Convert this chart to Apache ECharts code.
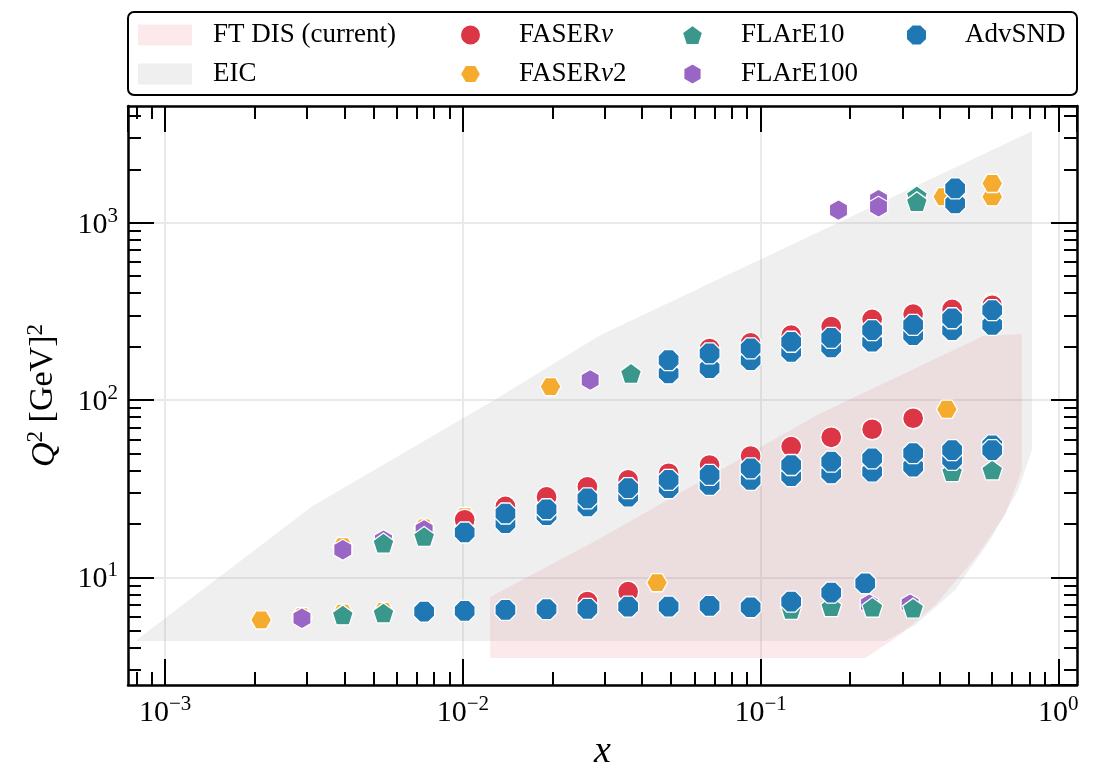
<!DOCTYPE html>
<html><head><meta charset="utf-8">
<script src="https://cdn.jsdelivr.net/npm/echarts@6/dist/echarts.min.js"></script>
<style>html,body{margin:0;padding:0;background:#fff}#c{width:1095px;height:764px}</style>
</head><body><div id="c"></div>
<script>
// ---------------- data ----------------
// FT DIS (current) region (x, Q2) polygon
const ftdisX  = [0.01235, 0.01235, 0.02826, 0.155, 0.5595, 0.7544, 0.7544, 0.6632, 0.526, 0.386, 0.2944, 0.2246];
const ftdisQ2 = [3.51, 7.75, 16.25, 82.3, 229.5, 235.5, 40.3, 22.5, 12.87, 6.99, 4.74, 3.51];
// EIC region polygon
const eicX  = [0.000793, 0.00311, 0.0130, 0.0289, 0.0731, 0.816, 0.816, 0.733, 0.5906, 0.4504, 0.3306, 0.2621];
const eicQ2 = [4.38, 25.1, 102, 232, 485, 3281, 52.3, 31.1, 16.25, 8.49, 5.39, 4.38];

// FASERnu (red circles)
const fasernuX  = [0.0262, 0.0359, 0.01014, 0.0139, 0.0191, 0.0262, 0.0359, 0.0491, 0.0674, 0.0926, 0.1267, 0.1727, 0.237, 0.3255,
                   0.0674, 0.0926, 0.1267, 0.1727, 0.237, 0.3255, 0.440, 0.600];
const fasernuQ2 = [7.30, 8.30, 21.1, 25.1, 28.4, 32.4, 35.4, 38.6, 43.0, 48.3, 54.6, 61.6, 68.4, 78.9,
                   195, 210, 232, 259, 285, 305, 324, 342];
// FASERnu2 (orange hexagons)
const fasernu2X  = [0.00210, 0.00288, 0.00395, 0.00541, 0.0449, 0.00395, 0.00741, 0.01014, 0.0197, 0.4226, 0.600, 0.411, 0.600, 0.600];
const fasernu2Q2 = [5.75, 5.99, 6.28, 6.42, 9.33, 14.9, 19.0, 22.0, 118.9, 88.6, 352, 1400, 1400, 1665];
// FLArE10 (teal pentagons)
const flare10X  = [0.00395, 0.00541, 0.1267, 0.1727, 0.2375, 0.3255, 0.00541, 0.00741, 0.440, 0.600, 0.0367, 0.335, 0.335];
const flare10Q2 = [6.14, 6.30, 6.6, 6.84, 6.78, 6.70, 15.6, 17.0, 39.4, 40.3, 141.4, 1420, 1313];
// FLArE100 (purple hexagons)
const flare100X  = [0.00288, 0.232, 0.318, 0.00395, 0.00541, 0.00741, 0.02677, 0.1827, 0.249, 0.249];
const flare100Q2 = [5.88, 7.05, 7.05, 14.3, 16.2, 18.5, 129.7, 1178, 1350, 1229];
// AdvSND (blue octagons)
const advsndX  = [0.00741, 0.01014, 0.0139, 0.0191, 0.0262, 0.0359, 0.0491, 0.0674, 0.0926, 0.1267, 0.1727, 0.2247,
                  0.01014, 0.0139, 0.0139, 0.0191, 0.0191, 0.0262, 0.0262, 0.0359, 0.0359, 0.0491, 0.0491, 0.0674, 0.0674,
                  0.0926, 0.0926, 0.1267, 0.1267, 0.1727, 0.1727, 0.237, 0.237, 0.3255, 0.3255, 0.440, 0.440, 0.600, 0.600,
                  0.0491, 0.0491, 0.0674, 0.0674, 0.0926, 0.0926, 0.1267, 0.1267, 0.1727, 0.1727, 0.237, 0.237,
                  0.3255, 0.3255, 0.440, 0.440, 0.600, 0.600, 0.4504, 0.4504];
const advsndQ2 = [6.41, 6.47, 6.55, 6.61, 6.64, 6.84, 6.84, 6.90, 6.78, 7.30, 8.20, 9.26,
                  17.9, 20.2, 22.9, 22.4, 24.2, 25.1, 27.9, 28.5, 31.8, 31.8, 35.4, 33.2, 37.8,
                  35.4, 41.2, 37.2, 43.0, 38.6, 44.9, 39.4, 46.9, 42.1, 50.1, 45.9, 52.2, 55.5, 52.2,
                  141.4, 168, 151, 183, 168, 195.5, 187, 213, 198, 224, 213, 248,
                  232, 265, 248, 289, 265, 321, 1285, 1560];

// minor tick values (decade multiples, as in a matplotlib log axis)
const xMinorTicks = [8e-4, 9e-4].concat(
  [2,3,4,5,6,7,8,9].map(m => m * 1e-3),
  [2,3,4,5,6,7,8,9].map(m => m * 1e-2),
  [2,3,4,5,6,7,8,9].map(m => m * 1e-1));
const yMinorTicks = [3,4,5,6,7,8,9].concat(
  [2,3,4,5,6,7,8,9].map(m => m * 10),
  [2,3,4,5,6,7,8,9].map(m => m * 100),
  [2,3,4].map(m => m * 1000));

// ---------------- style ----------------
const SERIF = '"Liberation Serif", "DejaVu Serif", serif';
const X_MIN = 7.5e-4, X_MAX = 1.156, Y_MIN = 2.47, Y_MAX = 4550;
const C_RED = '#dc3545', C_ORANGE = '#f5ab2e', C_TEAL = '#3a978b', C_PURPLE = '#9a66c6', C_BLUE = '#1f77b4';
const C_PINK = 'rgba(235,120,135,0.16)', C_GREY = 'rgba(170,170,170,0.19)';

const SYM_HEX_FLAT = 'path://M100,0 L50,86.6 L-50,86.6 L-100,0 L-50,-86.6 L50,-86.6 Z';
const SYM_HEX_POINT = 'path://M0,-100 L86.6,-50 L86.6,50 L0,100 L-86.6,50 L-86.6,-50 Z';
const SYM_PENT = 'path://M0,-100 L95.1,-30.9 L58.8,80.9 L-58.8,80.9 L-95.1,-30.9 Z';
const SYM_OCT = 'path://M92.4,38.3 L38.3,92.4 L-38.3,92.4 L-92.4,38.3 L-92.4,-38.3 L-38.3,-92.4 L38.3,-92.4 L92.4,-38.3 Z';

function zip(xs, ys) { return xs.map((x, i) => [x, ys[i]]); }

function expLabel(v) {
  const e = Math.round(Math.log10(v));
  return '{b|10}{s|' + (e < 0 ? '\u2212' + (-e) : String(e)) + '}';
}
const labelRich = {
  b: {fontFamily: SERIF, fontSize: 30, color: '#000', lineHeight: 34, verticalAlign: 'bottom'},
  s: {fontFamily: SERIF, fontSize: 21, color: '#000', lineHeight: 22, verticalAlign: 'top'}
};

function polySeries(name, xs, ys, color) {
  return {
    name: name, type: 'custom', coordinateSystem: 'cartesian2d', xAxisIndex: 0, yAxisIndex: 0,
    data: zip(xs, ys), silent: true, itemStyle: {color: color}, z: 1,
    renderItem: function (params, api) {
      if (params.dataIndex !== 0) return null;
      const pts = xs.map((x, i) => api.coord([x, ys[i]]));
      return {type: 'polygon', shape: {points: pts}, style: {fill: color, stroke: null}};
    }
  };
}
function scatterSeries(name, xs, ys, symbol, color) {
  return {
    name: name, type: 'scatter', xAxisIndex: 0, yAxisIndex: 0, data: zip(xs, ys),
    symbol: symbol, symbolSize: 21, symbolKeepAspect: true, z: 3,
    itemStyle: {color: color, borderColor: '#ffffff', borderWidth: 1.3, opacity: 1}
  };
}

const lineBlack = {color: '#000', width: 2.5};
const tickBlack = {color: '#000', width: 2};

// major log axes (data axes, labels, grid)
function majorAxis(pos, min, max, withLabels, margin) {
  return {
    type: 'log', logBase: 10, position: pos, min: min, max: max, gridIndex: 0,
    axisLine: {show: true, onZero: false, lineStyle: lineBlack},
    axisTick: {show: true, inside: true, length: 26, lineStyle: tickBlack},
    axisLabel: withLabels ? {show: true, margin: margin, formatter: expLabel, rich: labelRich,
                             showMinLabel: false, showMaxLabel: false} : {show: false},
    splitLine: {show: withLabels, lineStyle: {color: '#e9e9e9', width: 2}},
    minorTick: {show: false}, minorSplitLine: {show: false}
  };
}
// minor tick overlay axes (log10 space, ticks only)
function minorAxis(pos, min, max, ticks) {
  return {
    type: 'value', position: pos, min: Math.log10(min), max: Math.log10(max), gridIndex: 0,
    axisLine: {show: false, onZero: false},
    axisTick: {show: true, inside: true, length: 13, lineStyle: tickBlack, customValues: ticks.map(Math.log10)},
    axisLabel: {show: false}, splitLine: {show: false}
  };
}

const xMain = majorAxis('bottom', X_MIN, X_MAX, true, 9);
xMain.name = 'x';
xMain.nameLocation = 'middle';
xMain.nameGap = 46;
xMain.nameTextStyle = {fontFamily: SERIF, fontSize: 38, fontStyle: 'italic', color: '#000', lineHeight: 38};

const yMain = majorAxis('left', Y_MIN, Y_MAX, true, 10);
yMain.name = '{i|Q}{s|2} [GeV]{s|2}';
yMain.nameLocation = 'middle';
yMain.nameGap = 66;
yMain.nameTextStyle = {fontFamily: SERIF, fontSize: 34, color: '#000',
  rich: {
    i: {fontFamily: SERIF, fontSize: 34, fontStyle: 'italic', color: '#000', lineHeight: 38, verticalAlign: 'bottom'},
    s: {fontFamily: SERIF, fontSize: 23, color: '#000', lineHeight: 23, verticalAlign: 'top'}
  }};

const legendBase = {
  orient: 'vertical', top: 15, itemGap: 9, selectedMode: false, itemWidth: 21, itemHeight: 21,
  formatter: n => n.replace('\u03bd', '{i|\u03bd}'),
  textStyle: {fontFamily: SERIF, fontSize: 27, color: '#000', lineHeight: 30, padding: [0, 0, 0, 33],
    rich: {i: {fontFamily: SERIF, fontSize: 27, fontStyle: 'italic', color: '#000'}}}
};

const option = {
  animation: false,
  backgroundColor: '#fff',
  grid: {left: 128, top: 106, width: 949, height: 579, containLabel: false, outerBoundsMode: 'none'},
  xAxis: [xMain, minorAxis('bottom', X_MIN, X_MAX, xMinorTicks),
          majorAxis('top', X_MIN, X_MAX, false, 0), minorAxis('top', X_MIN, X_MAX, xMinorTicks)],
  yAxis: [yMain, minorAxis('left', Y_MIN, Y_MAX, yMinorTicks),
          majorAxis('right', Y_MIN, Y_MAX, false, 0), minorAxis('right', Y_MIN, Y_MAX, yMinorTicks)],
  legend: [
    Object.assign({}, legendBase, {left: 133, itemWidth: 54, itemHeight: 21,
      textStyle: Object.assign({}, legendBase.textStyle, {padding: [0, 0, 0, 16]}),
      data: [{name: 'FT DIS (current)', icon: 'rect', itemStyle: {color: C_PINK}},
             {name: 'EIC', icon: 'rect', itemStyle: {color: C_GREY}}]}),
    Object.assign({}, legendBase, {left: 454,
      data: [{name: 'FASER\u03bd', icon: 'circle'}, {name: 'FASER\u03bd2', icon: SYM_HEX_FLAT}]}),
    Object.assign({}, legendBase, {left: 676,
      data: [{name: 'FLArE10', icon: SYM_PENT}, {name: 'FLArE100', icon: SYM_HEX_POINT}]}),
    Object.assign({}, legendBase, {left: 900,
      data: [{name: 'AdvSND', icon: SYM_OCT}]})
  ],
  graphic: [{type: 'rect', shape: {x: 128, y: 12, width: 949, height: 83, r: 6},
             style: {fill: 'none', stroke: '#000', lineWidth: 2}, silent: true, z: 0}],
  series: [
    polySeries('FT DIS (current)', ftdisX, ftdisQ2, C_PINK),
    polySeries('EIC', eicX, eicQ2, C_GREY),
    scatterSeries('FASER\u03bd2', fasernu2X, fasernu2Q2, SYM_HEX_FLAT, C_ORANGE),
    scatterSeries('FLArE100', flare100X, flare100Q2, SYM_HEX_POINT, C_PURPLE),
    scatterSeries('FLArE10', flare10X, flare10Q2, SYM_PENT, C_TEAL),
    scatterSeries('FASER\u03bd', fasernuX, fasernuQ2, 'circle', C_RED),
    scatterSeries('AdvSND', advsndX, advsndQ2, SYM_OCT, C_BLUE)
  ]
};

const chart = echarts.init(document.getElementById('c'), null, {renderer: 'canvas'});
chart.setOption(option);
</script></body></html>
